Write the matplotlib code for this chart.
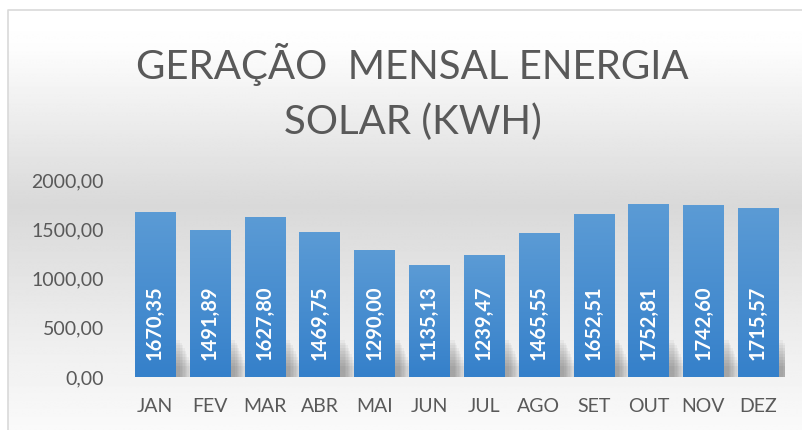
import numpy as np
import matplotlib.pyplot as plt
from matplotlib.colors import LinearSegmentedColormap

# Dados de geração mensal (kWh)
meses = ["JAN", "FEV", "MAR", "ABR", "MAI", "JUN", "JUL", "AGO", "SET", "OUT", "NOV", "DEZ"]
geracao = [1670.35, 1491.89, 1627.80, 1469.75, 1290.00, 1135.13,
           1239.47, 1465.55, 1652.51, 1752.81, 1742.60, 1715.57]
ticks_y = [0, 500, 1000, 1500, 2000]

FONTE = ["Lato", "DejaVu Sans"]
CINZA = "#595959"

W, H = 803, 430
fig = plt.figure(figsize=(W / 100, H / 100), dpi=100)
fig.patch.set_facecolor("white")

# Fundo com degradê (branco -> cinza -> branco), estilo Excel
fundo = fig.add_axes([0, 0, 1, 1], zorder=0)
fundo.set_xlim(0, W)
fundo.set_ylim(H, 0)
fundo.axis("off")
yy = np.arange(H)
tons = np.interp(yy, [10, 40, 200, 330, 430], [1.0, 0.99, 0.85, 0.93, 0.98])
grad = np.repeat(tons[:, None], 2, axis=1)
fundo.imshow(grad, cmap="gray", vmin=0, vmax=1, aspect="auto",
             extent=(8, W + 5, H, 10), interpolation="bilinear")
fundo.plot([8, 8, W + 5], [H, 10, 10], color="#d9d9d9", lw=1.2)

# Título
fig.text(0.5 + 11 / W, 1 - 65 / H, "GERAÇÃO  MENSAL ENERGIA", ha="center", va="center",
         fontsize=29, color=CINZA, family=FONTE)
fig.text(0.5 + 11 / W, 1 - 122 / H, "SOLAR (KWH)", ha="center", va="center",
         fontsize=29, color=CINZA, family=FONTE)

# Eixo principal
ax = fig.add_axes([127.6 / W, 53 / H, (785.4 - 127.6) / W, (377 - 180) / H], zorder=1)
ax.patch.set_alpha(0)
x = np.arange(len(meses))
largura = 0.73

# sombra suave atrás das barras
for k in range(10):
    ax.bar(x + 0.10 + k * 0.012, [380 - k * 30] * len(x), width=largura + 0.025 * k,
           color="black", alpha=0.035, zorder=1, linewidth=0)

barras = ax.bar(x, geracao, width=largura, color="none", zorder=2)

cmap = LinearSegmentedColormap.from_list("azul", ["#3580ca", "#5b9bd5"])
for b in barras:
    x0 = b.get_x()
    h = b.get_height()
    img = ax.imshow(np.linspace(0, 1, 100)[:, None], cmap=cmap, origin="lower",
                    extent=(x0, x0 + b.get_width(), 0, h), aspect="auto", zorder=2)
    img.set_clip_path(b)

for xi, v in zip(x, geracao):
    rotulo = f"{v:.2f}".replace(".", ",")
    ax.annotate(rotulo, (xi, 0), xytext=(0, 12), textcoords="offset points",
                rotation=90, ha="center", va="bottom", color="white",
                fontsize=14.5, fontweight="bold", family=FONTE, zorder=3)

ax.set_xlim(-0.5, len(meses) - 0.5)
ax.set_ylim(0, 2000)
ax.set_yticks(ticks_y)
ax.set_yticklabels([f"{t:.2f}".replace(".", ",") for t in ticks_y])
ax.set_xticks(x)
ax.set_xticklabels(meses)
for lab in ax.get_xticklabels() + ax.get_yticklabels():
    lab.set_family(FONTE)
    lab.set_fontsize(14)
    lab.set_color(CINZA)
ax.tick_params(length=0)
ax.tick_params(axis="x", pad=15)
ax.tick_params(axis="y", pad=17)
for s in ax.spines.values():
    s.set_visible(False)

fig.savefig("out.png", dpi=100)
